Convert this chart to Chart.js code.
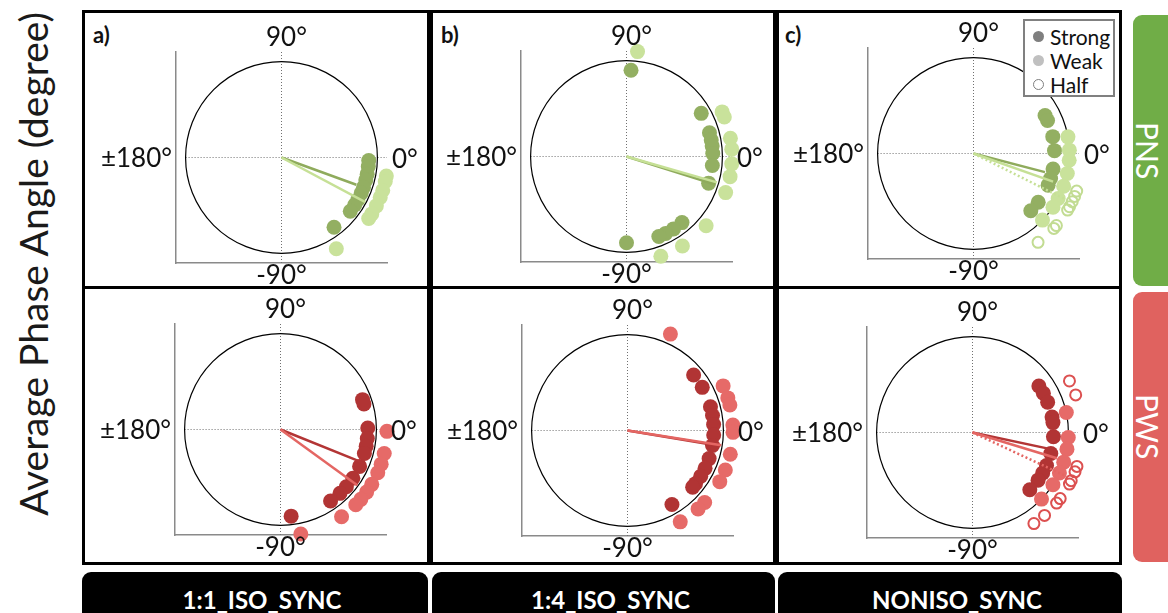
<!DOCTYPE html>
<html>
<head>
<meta charset="utf-8">
<script src="https://cdn.jsdelivr.net/npm/chart.js@4.4.0/dist/chart.umd.min.js"></script>
<style>
body{margin:0;width:1168px;height:613px;overflow:hidden;background:#fff;position:relative;font-family:Lato,sans-serif}
.col{position:absolute;top:10px;height:555px;border:3px solid #000;box-sizing:border-box}
.rowline{position:absolute;top:286px;height:3px;background:#000}
.tag{position:absolute;top:24px;font-weight:700;font-size:22px;color:#111;line-height:22px}
.bar{position:absolute;top:572px;height:60px;background:#000;border-radius:9px 9px 0 0;color:#fff;font-weight:700;font-size:24px;text-align:center;line-height:60px;box-sizing:border-box;padding-left:14px}
.bar span{position:relative;top:-2px}
.side{position:absolute;left:1133px;width:50px;border-radius:9px}
.side span{position:absolute;left:0;width:30px;top:0;bottom:0;display:flex;align-items:center;justify-content:center;writing-mode:vertical-rl;color:#fff;font-size:30px}
#ytitle{position:absolute;left:-267px;top:244px;width:600px;height:40px;line-height:40px;text-align:center;font-size:39px;color:#1a1a1a;transform:rotate(-90deg)}
canvas{position:absolute}
#legend{position:absolute;left:1023px;top:19px;width:92px;height:78px;border:2px solid #808080;box-sizing:border-box;background:#fff;font-size:21px;color:#111;z-index:5}
#legend div{position:absolute;left:25px;line-height:21px}
#legend i{position:absolute;left:-17px;top:5px;width:11px;height:11px;border-radius:50%;box-sizing:border-box}
</style>
</head>
<body>
<div id="ytitle">Average Phase Angle (degree)</div>

<div class="col" style="left:82px;width:348px"></div>
<div class="col" style="left:430px;width:346px"></div>
<div class="col" style="left:776px;width:346px"></div>
<div class="rowline" style="left:85px;width:342px"></div>
<div class="rowline" style="left:433px;width:340px"></div>
<div class="rowline" style="left:779px;width:340px"></div>

<div class="tag" style="left:93px">a)</div>
<div class="tag" style="left:441px">b)</div>
<div class="tag" style="left:785px">c)</div>

<div class="bar" style="left:82px;width:346px"><span id="lab0"></span></div>
<div class="bar" style="left:432px;width:343px"><span id="lab1"></span></div>
<div class="bar" style="left:778px;width:344px"><span id="lab2"></span></div>

<div class="side" style="top:15px;height:271px;background:#70ad47"><span id="row0"></span></div>
<div class="side" style="top:292px;height:270px;background:#e0625f"><span id="row1"></span></div>

<div id="legend">
  <div style="top:5px"><i style="background:#7f7f7f"></i>Strong</div>
  <div style="top:29px"><i style="background:#c0c0c0"></i>Weak</div>
  <div style="top:53px"><i style="border:1.5px solid #7f7f7f"></i>Half</div>
</div>

<script>
// categories
const columns = ['1:1_ISO_SYNC', '1:4_ISO_SYNC', 'NONISO_SYNC'];
const rows = ['PNS', 'PWS'];
const groups = ['Strong', 'Weak', 'Half'];
const angleLabels = ['90°', '-90°', '0°', '±180°'];

// phase angles (degree) of each subject
const pns11Strong = [-2, -6, -11, -15, -20, -24, -29, -33, -38, -53];
const pns11Weak = [-10, -13, -18, -22, -27, -32, -35, -59];
const pns14Strong = [87, 30, 16, 11, 7, 2, -6, -18, -50, -57, -63, -68, -90];
const pns14Weak = [84, 25, 22, 10, 4, -4, -11, -20, -41, -58, -71];
const pnsNonStrong = [28, 24, 12, 2, -11, -18, -23, -37, -45];
const pnsNonWeak = [10, 2, -4, -12, -20, -28, -34, -44];
const pnsNonHalf = [-20, -23, -26, -29, -31, -41, -43, -54];

const pws11Strong = [20, 17, 1, -6, -11, -16, -25, -34, -41, -47, -55, -83];
const pws11Weak = [-1, -13, -19, -24, -31, -36, -41, -45, -55, -79];
const pws14Strong = [40, 30, 16, 10, 4, -3, -10, -19, -26, -32, -38, -41, -59];
const pws14Weak = [66, 25, 18, 14, 3, -1, -13, -22, -29, -43, -48, -60];
const pwsNonStrong = [35, 29, 22, 11, 7, -3, -15, -24, -30, -36, -45];
const pwsNonWeak = [12, -3, -10, -18, -25, -33, -44];
const pwsNonHalf = [28, 20, -18, -21, -26, -28, -37, -40, -49, -56];

// plotting radius of each group, per column
const strongRadius = [0.91, 0.90, 0.845];
const weakRadius = [1.11, 1.10, 1.0];
const halfRadius = [0, 0, 1.145];

// mean vectors [angle, length], per column
const pnsMeanStrong = [[-20, 0.83], [-17.5, 0.97], [-14.6, 0.77]];
const pnsMeanWeak = [[-28, 0.99], [-16, 0.98], [-19.5, 0.88]];
const pnsMeanHalf = [null, null, [-26.5, 1.055]];
const pwsMeanStrong = [[-22, 0.91], [-9.5, 0.98], [-12, 0.82]];
const pwsMeanWeak = [[-36, 0.99], [-9, 0.99], [-17, 0.92]];
const pwsMeanHalf = [null, null, [-25, 1.06]];

const colors = {
  PNS: {strong: '#93af62', weak: '#c9e29b', half: '#c2dc92', lineStrong: '#8fab5c', lineWeak: '#c6e096'},
  PWS: {strong: '#b13434', weak: '#e66a68', half: '#dc5050', lineStrong: '#b33535', lineWeak: '#e46663'}
};

document.getElementById('lab0').textContent = columns[0];
document.getElementById('lab1').textContent = columns[1];
document.getElementById('lab2').textContent = columns[2];
document.getElementById('row0').textContent = rows[0];
document.getElementById('row1').textContent = rows[1];

function pt(a, r){
  return {x: r*Math.cos(a*Math.PI/180), y: r*Math.sin(a*Math.PI/180)};
}

const polarFrame = {
  id: 'polarFrame',
  beforeDatasetsDraw(chart){
    const {ctx, chartArea: ca, scales: {x, y}} = chart;
    const cx = x.getPixelForValue(0), cy = y.getPixelForValue(0);
    const r = x.getPixelForValue(1) - cx;
    ctx.save();
    ctx.strokeStyle = '#707070';
    ctx.lineWidth = 1;
    ctx.setLineDash([1, 2]);
    ctx.beginPath();
    ctx.moveTo(cx - r, cy); ctx.lineTo(ca.right, cy);
    ctx.moveTo(cx, ca.top); ctx.lineTo(cx, ca.bottom);
    ctx.stroke();
    ctx.setLineDash([]);
    ctx.strokeStyle = '#000';
    ctx.lineWidth = 1.2;
    ctx.beginPath();
    ctx.arc(cx, cy, r, 0, 2*Math.PI);
    ctx.stroke();
    ctx.restore();
  },
  afterDraw(chart){
    const {ctx, chartArea: ca, scales: {x, y}} = chart;
    const cx = x.getPixelForValue(0), cy = y.getPixelForValue(0);
    ctx.save();
    ctx.font = '26px Lato';
    ctx.fillStyle = '#111';
    ctx.textBaseline = 'alphabetic';
    ctx.textAlign = 'center';
    ctx.fillText(angleLabels[0], cx + 5, ca.top - 6);
    ctx.fillText(angleLabels[1], cx, ca.bottom + 21);
    ctx.textAlign = 'left';
    ctx.fillText(angleLabels[2], ca.right + 5, cy + 10);
    ctx.textAlign = 'right';
    ctx.fillText(angleLabels[3], ca.left - 4, cy + 9);
    ctx.restore();
  }
};

function scatterSet(label, angles, r, color, size, hollow){
  return {
    label: label,
    data: angles.map(a => pt(a, r)),
    pointRadius: size,
    pointHoverRadius: size,
    backgroundColor: hollow ? 'rgba(0,0,0,0)' : color,
    borderColor: color,
    pointBorderWidth: hollow ? 2 : 0,
    clip: false
  };
}

function meanSet(label, m, color, dotted){
  return {
    label: label,
    data: [{x: 0, y: 0}, pt(m[0], m[1])],
    showLine: true,
    borderColor: color,
    borderWidth: 2.5,
    borderDash: dotted ? [2, 2.5] : [],
    pointRadius: 0,
    clip: false
  };
}

const panels = [
  {row: 0, col: 0, left: 176, top: 52, strong: pns11Strong, weak: pns11Weak, half: null},
  {row: 0, col: 1, left: 521, top: 51, strong: pns14Strong, weak: pns14Weak, half: null},
  {row: 0, col: 2, left: 868, top: 48, strong: pnsNonStrong, weak: pnsNonWeak, half: pnsNonHalf},
  {row: 1, col: 0, left: 175, top: 324, strong: pws11Strong, weak: pws11Weak, half: null},
  {row: 1, col: 1, left: 522, top: 325, strong: pws14Strong, weak: pws14Weak, half: null},
  {row: 1, col: 2, left: 867, top: 327, strong: pwsNonStrong, weak: pwsNonWeak, half: pwsNonHalf}
];

const padL = 100, padR = 60, padT = 45, padB = 35, side = 211;

panels.forEach(function(p){
  const cv = document.createElement('canvas');
  cv.width = padL + side + padR;
  cv.height = padT + side + padB;
  cv.style.left = (p.left - padL) + 'px';
  cv.style.top = (p.top - padT) + 'px';
  document.body.appendChild(cv);

  const c = colors[rows[p.row]];
  const meanS = p.row == 0 ? pnsMeanStrong[p.col] : pwsMeanStrong[p.col];
  const meanW = p.row == 0 ? pnsMeanWeak[p.col] : pwsMeanWeak[p.col];
  const meanH = p.row == 0 ? pnsMeanHalf[p.col] : pwsMeanHalf[p.col];

  let datasets = [];
  if(meanH) datasets.push(meanSet('mean ' + groups[2], meanH, c.lineWeak, true));
  datasets.push(meanSet('mean ' + groups[1], meanW, c.lineWeak, false));
  datasets.push(meanSet('mean ' + groups[0], meanS, c.lineStrong, false));
  if(p.half) datasets.push(scatterSet(groups[2], p.half, halfRadius[p.col], c.half, 5.5, true));
  datasets.push(scatterSet(groups[1], p.weak, weakRadius[p.col], c.weak, 7.5, false));
  datasets.push(scatterSet(groups[0], p.strong, strongRadius[p.col], c.strong, 7.5, false));

  const axis = {
    type: 'linear', min: -1.1, max: 1.1,
    ticks: {display: false},
    grid: {display: false, drawTicks: false},
    border: {display: true, color: '#8a8a8a', width: 1.5}
  };

  new Chart(cv.getContext('2d'), {
    type: 'scatter',
    data: {datasets: datasets},
    options: {
      responsive: false,
      animation: false,
      devicePixelRatio: 1,
      events: [],
      layout: {padding: {left: padL, right: padR, top: padT, bottom: padB}},
      plugins: {legend: {display: false}, tooltip: {enabled: false}},
      scales: {x: Object.assign({position: 'bottom'}, axis), y: Object.assign({position: 'left'}, axis)}
    },
    plugins: [polarFrame]
  });
});
</script>
</body>
</html>
